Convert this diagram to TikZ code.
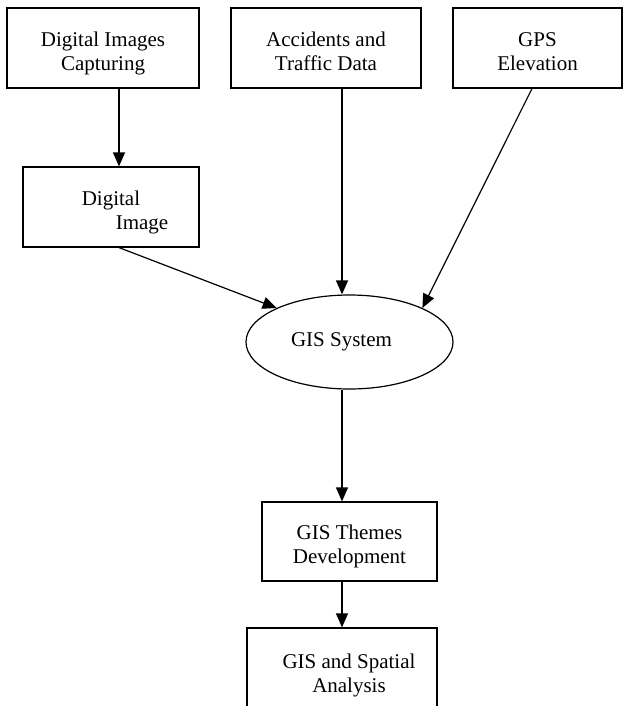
\documentclass[tikz,border=0pt]{standalone}
\usepackage{fontspec}
\setmainfont{Liberation Serif}
\usetikzlibrary{arrows.meta,shapes.geometric}
\newcommand{\mylinesc}[1]{\raisebox{-5.5pt}[\height][\depth]{\begin{tabular}{@{}c@{}}#1\end{tabular}}}
\newcommand{\mylinesl}[1]{\raisebox{-5.5pt}[\height][\depth]{\begin{tabular}{@{}l@{}}#1\end{tabular}}}
\begin{document}
\begin{tikzpicture}[x=1pt,y=-1pt,
  every node/.style={font=\fontsize{21}{24}\selectfont},
  boxs/.style={draw,line width=1.2pt,rectangle,inner sep=0pt},
  ells/.style={draw,line width=1.2pt,ellipse,inner sep=0pt,minimum width=207pt,minimum height=94pt},
  arr/.style={line width=1.2pt,-{Triangle[length=14pt,width=12pt]}}]
\clip (0,0) rectangle (623,706);
\node[boxs,minimum width=192pt,minimum height=80pt] (b1) at (103,48) {\mylinesc{Digital Images\\Capturing}};
\node[boxs,minimum width=190pt,minimum height=80pt] (b2) at (326,48) {\mylinesc{Accidents and\\Traffic Data}};
\node[boxs,minimum width=169pt,minimum height=80pt] (b3) at (537.5,48) {\mylinesc{GPS\\Elevation}};
\node[boxs,minimum width=176pt,minimum height=80pt] (b4) at (111,207) {\mylinesl{\hspace*{28pt}Digital\\\hspace*{62pt}Image}};
\node[ells] (ell) at (349.5,342) {GIS System\hspace*{16pt}};
\node[boxs,minimum width=175pt,minimum height=79pt] (b5) at (349.5,541.5) {\mylinesc{GIS Themes\\Development}};
\node[boxs,minimum width=190pt,minimum height=84pt] (b6) at (342,670) {\mylinesc{\hspace*{14pt}GIS and Spatial\\\hspace*{14pt}Analysis}};
\draw[arr] ([xshift=16pt]b1.south) -- ([xshift=8pt]b4.north);
\draw[arr] ([xshift=16pt]b2.south) -- ([xshift=16pt]b2.south |- ell.north);
\draw[arr] ([xshift=-5.5pt]b3.south) -- (ell.25);
\draw[arr] ([xshift=8pt]b4.south) -- (ell.155);
\draw[arr] ([xshift=-7.5pt]ell.south) -- ([xshift=-7.5pt]b5.north);
\draw[arr] ([xshift=-7.5pt]b5.south) -- (b6.north);
\end{tikzpicture}
\end{document}
